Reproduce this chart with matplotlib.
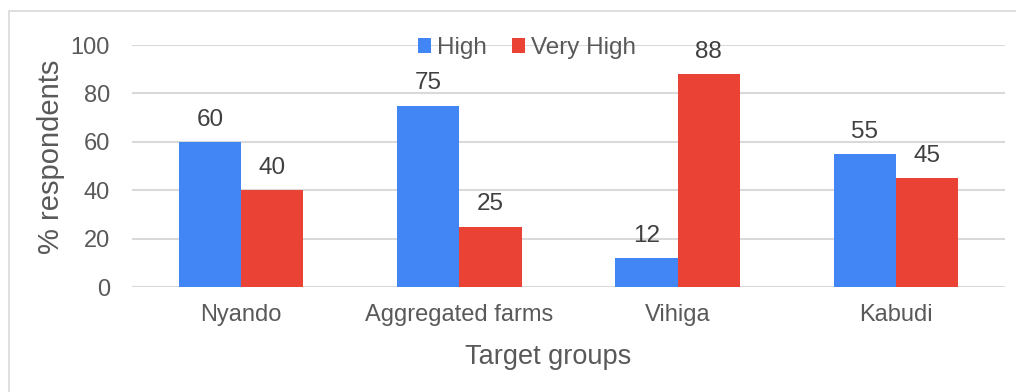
import matplotlib
matplotlib.use("Agg")
import matplotlib.pyplot as plt
import numpy as np
from matplotlib.patches import Rectangle

categories = ["Nyando", "Aggregated farms", "Vihiga", "Kabudi"]
high = [60, 75, 12, 55]
very_high = [40, 25, 88, 45]
yticks = [0, 20, 40, 60, 80, 100]

plt.rcParams["font.family"] = ["Liberation Sans", "DejaVu Sans"]

W, H = 1016, 392
fig = plt.figure(figsize=(W / 100, H / 100), dpi=100)
fig.patch.set_facecolor("white")

# outer chart frame
fig.add_artist(Rectangle((9 / W, -0.1), 1.2, (H - 11) / H + 0.1,
                         transform=fig.transFigure, fill=False,
                         edgecolor="#d9d9d9", linewidth=1.2))

left, right, top, bottom = 132, 1005, 45, 287
ax = fig.add_axes([left / W, 1 - bottom / H, (right - left) / W, (bottom - top) / H])

x = np.arange(len(categories))
w = 0.285
blue, red = "#4285F4", "#EA4335"
b1 = ax.bar(x - w / 2, high, w, color=blue, label="High", zorder=3)
b2 = ax.bar(x + w / 2, very_high, w, color=red, label="Very High", zorder=3)

for bars, vals in ((b1, high), (b2, very_high)):
    for r, v in zip(bars, vals):
        ax.annotate(f"{v}", (r.get_x() + r.get_width() / 2, v),
                    xytext=(0, 8), textcoords="offset points",
                    ha="center", va="bottom", fontsize=17.5, color="#404040")

ax.set_xlim(-0.5, len(categories) - 0.5)
ax.set_ylim(0, 100)
ax.set_yticks(yticks)
ax.set_xticks(x)
ax.set_xticklabels(categories)
ax.tick_params(axis="both", length=0, labelsize=17, labelcolor="#595959")
ax.tick_params(axis="y", pad=16)
ax.tick_params(axis="x", pad=12)
ax.grid(axis="y", color="#d9d9d9", linewidth=1.5, zorder=0)
for s in ax.spines.values():
    s.set_visible(False)

fig.text(51 / W, 1 - 157 / H, "% respondents", rotation=90, ha="center", va="center",
         fontsize=21, color="#595959")
fig.text(548 / W, 1 - 357 / H, "Target groups", ha="center", va="center",
         fontsize=19.5, color="#595959")

leg = fig.legend(handles=[b1, b2], labels=["High", "Very High"],
                 loc="center", bbox_to_anchor=(527 / W, 1 - 48 / H),
                 ncol=2, frameon=False, fontsize=17.5, handlelength=0.55,
                 handleheight=0.55, handletextpad=0.25, columnspacing=1.0)
for t in leg.get_texts():
    t.set_color("#595959")

fig.savefig("out.png", dpi=100, facecolor="white")
